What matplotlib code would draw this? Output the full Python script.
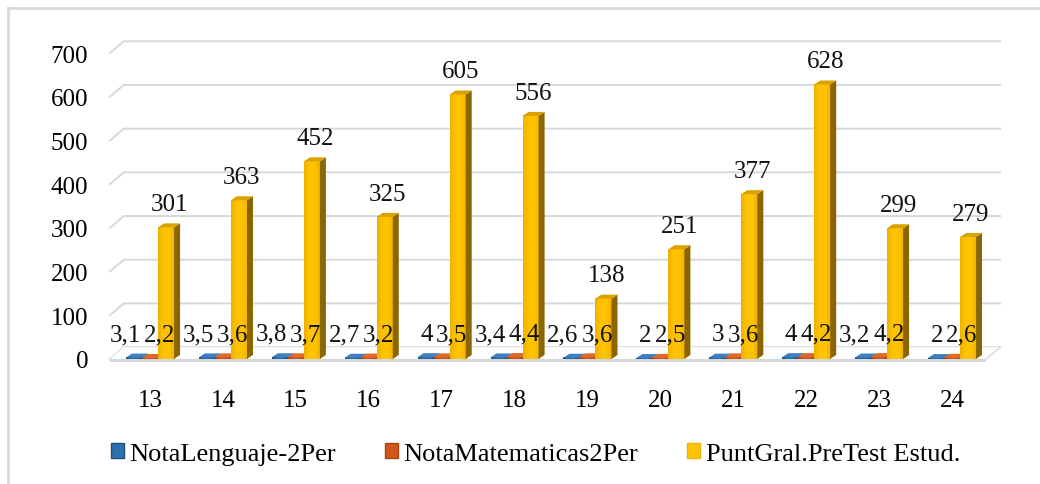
import numpy as np
import matplotlib
matplotlib.use("Agg")
import matplotlib.pyplot as plt
from matplotlib.patches import Polygon, Patch
from matplotlib.lines import Line2D

# data
categorias = ["13", "14", "15", "16", "17", "18", "19", "20", "21", "22", "23", "24"]
nota_lenguaje = [3.1, 3.5, 3.8, 2.7, 4, 3.4, 2.6, 2, 3, 4, 3.2, 2]
nota_matematicas = [2.2, 3.6, 3.7, 3.2, 3.5, 4.4, 3.6, 2.5, 3.6, 4.2, 4.2, 2.6]
punt_gral = [301, 363, 452, 325, 605, 556, 138, 251, 377, 628, 299, 279]
series_nombres = ["NotaLenguaje-2Per", "NotaMatematicas2Per", "PuntGral.PreTest Estud."]
yticks = [0, 100, 200, 300, 400, 500, 600, 700]

# colores: frente claro / frente oscuro / lateral / tapa
colores = [
    dict(front="#2e6fb0", edge="#1f4e79", side="#163a5c", top="#3f7fc0"),
    dict(front="#d0581a", edge="#a84410", side="#7a300a", top="#e06a2a"),
    dict(front="#ffc400", edge="#f0b000", side="#8a6500", top="#d9a200"),
]

plt.rcParams["font.family"] = ["Liberation Serif", "DejaVu Serif"]

fig = plt.figure(figsize=(10.4, 4.85), dpi=100)
ax = fig.add_axes([106.3 / 1040, 0.2398, 904 / 1040, 0.7029])
ax.set_xlim(-0.6, 11.8)
ax.set_ylim(-20, 760)
for s in ax.spines.values():
    s.set_visible(False)

# profundidad de la pared del fondo y de las barras
wall_dx, wall_dy = 0.19, 27
bar_dx, bar_dy = 0.082, 9.2
x_left, x_right = -0.55, 11.47

# lineas de division con el quiebre diagonal
for v in yticks:
    ax.plot([x_left, x_left + wall_dx, x_right + wall_dx], [v, v + wall_dy, v + wall_dy],
            color="#d5d8de", lw=1.4, zorder=1, clip_on=False)

# piso
ax.add_patch(Polygon([(x_left, 0), (x_left + wall_dx, wall_dy), (x_right + wall_dx, wall_dy), (x_right, 0)],
                     closed=True, fc="white", ec="none", zorder=1.5))
ax.add_patch(Polygon([(x_left, 0), (x_right, 0), (x_right, -6), (x_left, -6)],
                     closed=True, fc="#d3d7de", ec="none", zorder=1.6))
ax.plot([x_right, x_right + wall_dx], [0, wall_dy], color="#d5d8de", lw=1, zorder=1.6)

w = 0.22
datos = [nota_lenguaje, nota_matematicas, punt_gral]
x = np.arange(len(categorias))
grad = np.linspace(0, 1, 32).reshape(1, -1)

for i in x:
    for s, vals in enumerate(datos):
        v = vals[i]
        c = colores[s]
        x0 = i - 0.33 + s * w
        x1 = x0 + w
        z = 2 + i * 0.1 + s * 0.01
        # cara frontal con degradado
        cmap = matplotlib.colors.LinearSegmentedColormap.from_list(
            "g", [c["edge"], c["front"], c["front"], c["edge"]])
        ax.imshow(grad, extent=[x0, x1, 0, v], aspect="auto", cmap=cmap,
                  zorder=z, interpolation="bilinear")
        # lateral
        ax.add_patch(Polygon([(x1, 0), (x1 + bar_dx, bar_dy), (x1 + bar_dx, v + bar_dy), (x1, v)],
                             closed=True, fc=c["side"], ec="none", zorder=z))
        # tapa
        ax.add_patch(Polygon([(x0, v), (x0 + bar_dx, v + bar_dy), (x1 + bar_dx, v + bar_dy), (x1, v)],
                             closed=True, fc=c["top"], ec="none", zorder=z))
        etiqueta = ("%g" % v).replace(".", ",")
        # las notas pequeñas se separan hacia los lados para que no se tapen
        if s == 0:
            pos, ha = (x1 - 0.01, v + bar_dy), "right"
        elif s == 1:
            pos, ha = (x0 + 0.03, v + bar_dy), "left"
        else:
            pos, ha = (x0 + w / 2 + bar_dx / 2, v + bar_dy), "center"
        ax.annotate(etiqueta, pos, xytext=(0, 6), textcoords="offset points",
                    ha=ha, va="bottom", fontsize=18, color="#111111", zorder=10,
                    annotation_clip=False)

ax.set_xlim(-0.6, 11.8)
ax.set_ylim(-20, 760)
ax.set_yticks(yticks)
ax.set_yticklabels([str(t) for t in yticks], fontsize=18)
ax.set_xticks(x)
ax.set_xticklabels(categorias, fontsize=18)
ax.tick_params(axis="y", length=0, pad=13)
ax.tick_params(axis="x", length=0, pad=15)

# marco exterior
fig.add_artist(Line2D([8 / 1040, 8 / 1040], [0, 1 - 9 / 485], color="#d5d8de", lw=2))
fig.add_artist(Line2D([8 / 1040, 1], [1 - 9 / 485, 1 - 9 / 485], color="#d5d8de", lw=2))

handles = [Patch(fc=colores[k]["front"], ec=colores[k]["edge"], lw=1) for k in range(3)]
fig.legend(handles, series_nombres, loc="center", bbox_to_anchor=(0.515, 1 - 455 / 485),
           ncol=3, frameon=False, fontsize=19, handlelength=0.5, handleheight=0.5,
           handletextpad=0.2, columnspacing=1.85)

fig.savefig("out.png", dpi=100)
